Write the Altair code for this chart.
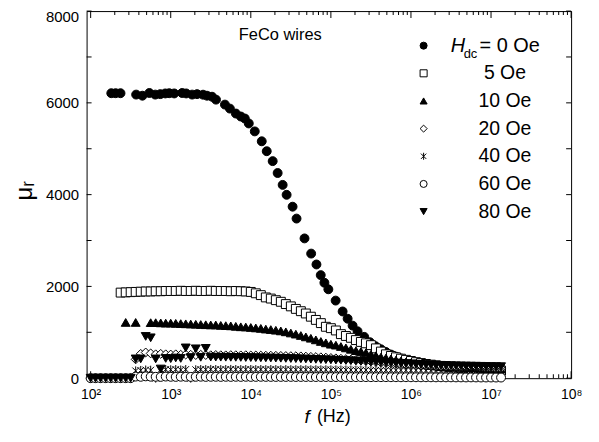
import altair as alt
import pandas as pd

series_labels = ["0 Oe", "5 Oe", "10 Oe", "20 Oe", "40 Oe", "60 Oe", "80 Oe"]

# measurement frequency sweep (Hz), 16 points per decade
f_grid = [100, 115, 133, 154, 178, 205, 237, 274, 316, 365, 422, 487, 562, 649, 750, 866,
          1000, 1155, 1334, 1540, 1778, 2054, 2371, 2738, 3162, 3652, 4217, 4870, 5623, 6494, 7499, 8660,
          1.0e4, 1.155e4, 1.334e4, 1.540e4, 1.778e4, 2.054e4, 2.371e4, 2.738e4,
          3.162e4, 3.652e4, 4.217e4, 4.870e4, 5.623e4, 6.494e4, 7.499e4, 8.660e4,
          1.0e5, 1.155e5, 1.334e5, 1.540e5, 1.778e5, 2.054e5, 2.371e5, 2.738e5,
          3.162e5, 3.652e5, 4.217e5, 4.870e5, 5.623e5, 6.494e5, 7.499e5, 8.660e5,
          1.0e6, 1.155e6, 1.334e6, 1.540e6, 1.778e6, 2.054e6, 2.371e6, 2.738e6,
          3.162e6, 3.652e6, 4.217e6, 4.870e6, 5.623e6, 6.494e6, 7.499e6, 8.660e6,
          1.0e7, 1.155e7, 1.334e7]

# H_dc = 0 Oe
f_0 = [181, 205, 236, 370, 443, 541, 641, 741, 855, 958,
       1105, 1389, 1559, 1851, 2134, 2534, 2839, 3279, 3675, 4753,
       5483, 6513, 7515, 8420, 9440, 11210, 13700, 15810, 18760, 21640,
       24990, 28010, 33260, 37260, 46870, 56720, 66050, 74700, 83000, 93000,
       114700, 140200, 161900, 186800, 215400, 260700, 306800, 360400] + f_grid[58:]
mu_0 = [6210, 6210, 6210, 6180, 6156, 6215, 6180, 6190, 6205, 6210,
        6205, 6215, 6205, 6180, 6190, 6178, 6156, 6134, 6070, 5962,
        5875, 5767, 5702, 5659, 5551, 5378, 5162, 4946, 4730, 4471,
        4212, 3996, 3737, 3478, 3046, 2715, 2478, 2246, 2080, 1937,
        1691, 1454, 1296, 1145, 1022, 901, 784, 698,
        630, 570, 515, 470, 430, 395, 365, 340, 320, 300,
        285, 272, 262, 253, 246, 240, 235, 230, 226, 222,
        219, 216, 213, 210, 208]

# 5 Oe
f_5 = f_grid[6:]
mu_5 = [1865, 1870, 1875, 1880, 1885, 1890, 1890, 1895, 1895, 1900,
        1900, 1900, 1905, 1900, 1900, 1905, 1900, 1900, 1905, 1900,
        1900, 1900, 1895, 1900, 1895, 1890, 1880,
        1850, 1810, 1760, 1735, 1700, 1665, 1615, 1565, 1510, 1460,
        1410, 1340, 1270, 1200, 1120, 1090, 1040, 960, 920, 880,
        830, 790, 760, 720, 650, 580, 520, 485, 455, 425,
        400, 375, 350, 330, 310, 295, 280, 265, 255, 245,
        235, 225, 215, 205, 195, 190, 180, 175, 170, 165]

# 10 Oe
f_10 = [274, 365] + f_grid[12:]
mu_10 = [1215, 1215,
         1210, 1210, 1205, 1200, 1200, 1195, 1190, 1185, 1180, 1175,
         1170, 1165, 1160, 1160, 1150, 1145, 1140, 1130, 1120, 1115,
         1105, 1095, 1085, 1070, 1060, 1045, 1030, 1010, 985, 960,
         930, 900, 870, 835, 800, 770, 740, 720, 690, 660,
         630, 600, 580, 555, 520, 490, 460, 440, 420, 395,
         375, 355, 335, 320, 305, 290, 280, 270, 262, 255,
         248, 242, 236, 230, 225, 220, 215, 210, 206, 202,
         198]

# 20 Oe
f_20 = f_grid
mu_20 = [0, 0, 0, 0, 0, 0, 0, 0, 0,
         410, 530, 560, 540, 520, 530, 520, 515, 520, 510,
         515, 510, 505, 510, 505, 500, 505, 500, 498, 502,
         500, 497, 500, 495, 495, 492, 490, 490, 488, 485,
         483, 480, 478, 475, 470, 465, 460, 455, 448, 440,
         432, 424, 415, 405, 395, 385, 375, 365, 355, 345,
         335, 325, 315, 305, 297, 290, 283, 276, 270, 265,
         260, 255, 250, 246, 242, 238, 235, 232, 229, 226,
         223, 220, 218, 215]

# 40 Oe
f_40 = f_grid
mu_40 = [0, 0, 0, 0, 0, 0, 0, 0, 0,
         160, 170, 180, 175, 0, 185, 190, 185, 190, 180,
         190, 0, 185, 190, 188, 192, 190, 188, 190, 192,
         190, 188, 190, 190, 188, 190, 187, 190, 188, 186,
         188, 186, 185, 187, 185, 184, 185, 183, 184, 182,
         181, 180, 180, 179, 178, 178, 177, 176, 176, 175,
         175, 174, 173, 172, 172, 171, 170, 168, 167, 166,
         165, 164, 163, 162, 160, 159, 158, 157, 155, 154,
         153, 152, 151, 150]

# 60 Oe
f_60 = f_grid
mu_60 = [0, 0, 0, 0, 0, 0, 0, 0, 0,
         35, 30, 40, 32, 30, 28, 35, 30, 28, 32,
         30, 28, 30, 32, 28, 30, 30, 28, 30, 28,
         30, 28, 30, 28, 28, 30, 28, 28, 27, 28,
         27, 28, 26, 27, 26, 26, 25, 26, 25, 25,
         24, 25, 24, 24, 23, 24, 23, 22, 23, 22,
         22, 21, 21, 20, 21, 20, 20, 19, 20, 19,
         18, 19, 18, 18, 17, 17, 16, 17, 16, 15,
         15, 15, 14, 14]

# 80 Oe
f_80 = f_grid
mu_80 = [0, 0, 0, 0, 0, 0, 0, 0, 0,
         420, 420, 910, 880, 420, 200, 430, 425, 440, 430,
         660, 450, 640, 455, 650, 460, 458, 457, 456, 455,
         454, 452, 450, 448, 446, 444, 442, 440, 437, 434,
         431, 428, 425, 422, 418, 414, 410, 406, 402, 398,
         394, 390, 385, 380, 375, 370, 365, 360, 354, 348,
         342, 336, 330, 324, 318, 312, 306, 300, 295, 290,
         285, 281, 277, 274, 271, 268, 265, 263, 261, 259,
         257, 255, 253, 251]

all_f = [f_0, f_5, f_10, f_20, f_40, f_60, f_80]
all_mu = [mu_0, mu_5, mu_10, mu_20, mu_40, mu_60, mu_80]

rows = []
for lab, fs, ms in zip(series_labels, all_f, all_mu):
    for fv, mv in zip(fs, ms):
        rows.append({"f": fv, "mu": mv, "series": lab})
df = pd.DataFrame(rows)

# axis tick positions
x_major = [1e2, 1e3, 1e4, 1e5, 1e6, 1e7, 1e8]
x_minor = [m * d for d in [1e2, 1e3, 1e4, 1e5, 1e6, 1e7] for m in range(2, 10)]
y_major = [0, 2000, 4000, 6000, 8000]
y_ticks = [0, 1000, 2000, 3000, 4000, 5000, 6000, 7000, 8000]

# styles
marker_shapes = ["circle", "square", "triangle-up", "diamond",
                 "M0,-1L0,1M-0.75,-0.75L0.75,0.75M-0.75,0.75L0.75,-0.75",
                 "circle", "triangle-down"]
marker_fills = ["black", "white", "black", "white", "white", "white", "black"]
marker_strokes = ["black"] * 7

FONT = "Liberation Sans"
W, H = 487, 369

x_scale = alt.Scale(type="log", domain=[89, 1e8], nice=False)
y_scale = alt.Scale(domain=[0, 8000], nice=False, zero=False)

sup_expr = ("'10' + ['\u2070','\u00b9','\u00b2','\u00b3','\u2074','\u2075','\u2076','\u2077','\u2078']"
            "[round(log(datum.value)/LN10)]")

leg = alt.Legend(orient="none", legendX=329, legendY=25, direction="vertical",
                 title=None, padding=0, labelFont=FONT, labelFontSize=19.5,
                 labelColor="black", labelAlign="center", labelOffset=72, labelLimit=300,
                 symbolSize=50, symbolStrokeColor="black", symbolStrokeWidth=1,
                 rowPadding=6.8,
                 labelExpr="datum.label == '0 Oe' ? '' : datum.label")

points = alt.Chart(df).mark_point(filled=True, size=80, opacity=1, strokeWidth=1).encode(
    x=alt.X("f:Q", scale=x_scale,
            axis=alt.Axis(orient="bottom", values=x_major, labelExpr=sup_expr, ticks=False, tickSize=0,
                          domain=False, labelPadding=9, labelFontSize=14, labelFlush=False,
                          labelOverlap=False, title="(Hz)", titleFontSize=18, titleX=231, titleY=39,
                          titleAlign="left", titleBaseline="middle", grid=False)),
    y=alt.Y("mu:Q", scale=y_scale,
            axis=alt.Axis(orient="left", values=y_major, format="d", ticks=False, tickSize=0,
                          domain=False, labelPadding=8, labelFontSize=15, labelFlush=False,
                          labelOffset={"condition": {"test": "datum.value == 8000", "value": 5.5}, "value": 0},
                          labelOverlap=False, title="\u03bc\u1d63", titleFontSize=24, titleX=-62,
                          titleY=180, titleAngle=270, titleAlign="center", titleBaseline="middle",
                          grid=False)),
    shape=alt.Shape("series:N", scale=alt.Scale(domain=series_labels, range=marker_shapes), legend=leg),
    fill=alt.Fill("series:N", scale=alt.Scale(domain=series_labels, range=marker_fills), legend=leg),
    stroke=alt.Stroke("series:N", scale=alt.Scale(domain=series_labels, range=marker_strokes), legend=leg),
)


def x_tick_marks(vals, length, ypos):
    return alt.Chart(pd.DataFrame({"v": vals})).mark_tick(
        orient="vertical", size=length, thickness=1, color="black", opacity=1
    ).encode(x=alt.X("v:Q", scale=x_scale, axis=None), y=alt.value(ypos))


def y_tick_marks(vals, length, xpos):
    return alt.Chart(pd.DataFrame({"v": vals})).mark_tick(
        orient="horizontal", size=length, thickness=1, color="black", opacity=1
    ).encode(y=alt.Y("v:Q", scale=y_scale, axis=None), x=alt.value(xpos))


def note(txt, x, y, size, style="normal"):
    return alt.Chart(pd.DataFrame({"t": [txt]})).mark_text(
        align="left", baseline="middle", font=FONT, fontSize=size, fontStyle=style, color="black"
    ).encode(x=alt.value(x), y=alt.value(y), text="t:N")


layers = [
    x_tick_marks(x_major, 7, H - 3.5),   # bottom edge, inward
    x_tick_marks(x_minor, 4, H - 2),
    x_tick_marks(x_major, 7, 3.5),       # top edge, inward
    x_tick_marks(x_minor, 4, 2),
    y_tick_marks(y_ticks, 5, 2.5),       # left edge, inward
    y_tick_marks(y_ticks, 5, W - 2.5),   # right edge, inward
    points,
    note("FeCo wires", 153, 24, 16.5),
    note("H", 366, 35, 20, "italic"),
    note("dc", 379, 43, 13),
    note("= 0 Oe", 395, 35, 20),
    note("f", 219, 408, 19, "italic"),
]

chart = alt.layer(*layers).resolve_axis(x="independent", y="independent").properties(
    width=W, height=H,
    padding={"left": 79, "top": 2, "right": 20, "bottom": 52},
    autosize=alt.AutoSizeParams(type="none"),
    background="white",
).configure_view(stroke="black", strokeWidth=1).configure_axis(
    domainColor="black", tickColor="black", labelColor="black", titleColor="black",
    labelFont=FONT, titleFont=FONT, titleFontWeight="normal",
)

chart.save("out.html", embed_options={"renderer": "svg", "actions": False})
